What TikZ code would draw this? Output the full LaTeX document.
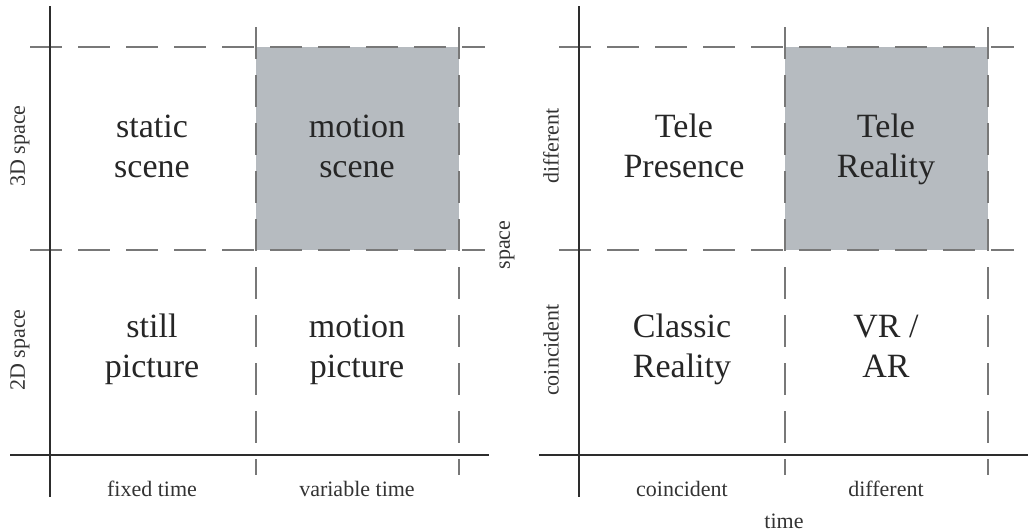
\documentclass[tikz,border=0pt]{standalone}
\usepackage{fontspec}
\setmainfont{Liberation Serif}

\definecolor{cellgray}{RGB}{182,187,192}
\definecolor{gridgray}{RGB}{120,120,120}
\definecolor{axisgray}{RGB}{45,45,45}

\tikzset{
  axisline/.style={line width=2.4pt, draw=axisgray},
  gridline/.style={line width=1.8pt, draw=gridgray, dash pattern=on 32pt off 16pt},
  cell/.style={font=\fontsize{34}{40}\selectfont, align=center, text=black!85, inner sep=0pt},
  tag/.style={font=\fontsize{22}{26}\selectfont, text=black!80, inner sep=0pt, anchor=base},
  sidetag/.style={font=\fontsize{22}{26}\selectfont, text=black!80, inner sep=0pt, rotate=90},
}

\begin{document}
\begin{tikzpicture}[x=1pt,y=-1pt]
\useasboundingbox (0,0) rectangle (1028,531);

% the two quadrant frames
\foreach \sx/\ax in {0/489, 529/499} {
  \begin{scope}[xshift=\sx pt]
    \fill[cellgray] (256,47) rectangle (459,250);
    \draw[gridline] (30,47) -- (485,47);
    \draw[gridline] (30,250) -- (485,250);
    \draw[gridline] (256,27) -- (256,475);
    \draw[gridline] (459,27) -- (459,475);
    \draw[axisline] (50,6) -- (50,497);
    \draw[axisline] (10,455) -- (\ax,455);
  \end{scope}
}

% left: space vs. time
\node[cell] (static) at (152,149.5) {\strut static\\\strut scene};
\node[cell] (mscene) at (357,149.5) {\strut motion\\\strut scene};
\node[cell] (still) at (152,349) {\strut still\\\strut picture};
\node[cell] (mpicture) at (357,349) {\strut motion\\\strut picture};
\node[sidetag] (space3d) at (20,146) {3D space};
\node[sidetag] (space2d) at (20,350) {2D space};
\node[tag] (fixed) at (152,496) {fixed time};
\node[tag] (variable) at (357,496) {variable time};
\node[sidetag] (space) at (507,245) {space};

% right: tele reality
\node[cell] (telepres) at (684,149.5) {\strut Tele\\\strut Presence};
\node[cell] (telereal) at (886,149.5) {\strut Tele\\\strut Reality};
\node[cell] (classic) at (682,349) {\strut Classic\\\strut Reality};
\node[cell] (vrar) at (886,349) {\strut VR /\\\strut AR};
\node[sidetag] (ydiff) at (551,146) {different};
\node[sidetag] (ycoin) at (551,350) {coincident};
\node[tag] (xcoin) at (682,496) {coincident};
\node[tag] (xdiff) at (886,496) {different};
\node[tag] (time) at (784,528) {time};
\end{tikzpicture}
\end{document}
